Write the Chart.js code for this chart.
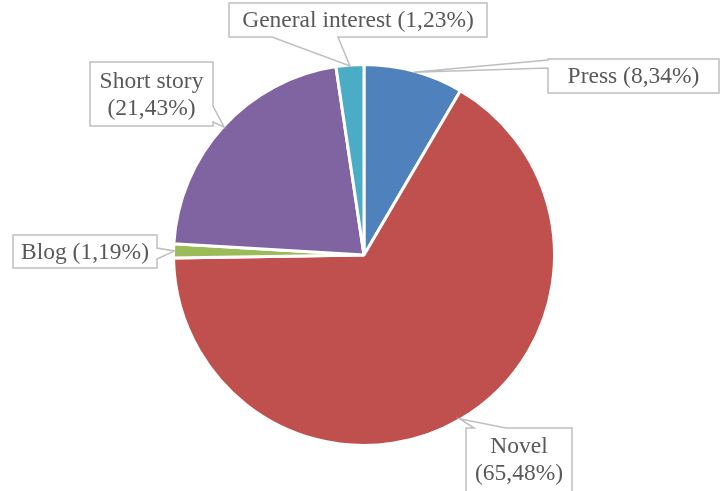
<!DOCTYPE html>
<html>
<head>
<meta charset="utf-8">
<script src="https://cdn.jsdelivr.net/npm/chart.js@4.4.1/dist/chart.umd.min.js"></script>
<style>
html,body{margin:0;padding:0;background:#fff;}
#wrap{width:727px;height:491px;position:relative;}
</style>
</head>
<body>
<div id="wrap"><canvas id="c" width="727" height="491"></canvas></div>
<script>
// Data
const categories = ["Press", "Novel", "Blog", "Short story", "General interest"];
const sliceValues = [8.34, 65.48, 1.19, 21.43, 2.33];      // slice sizes
const labelPercents = ["8,34%", "65,48%", "1,19%", "21,43%", "1,23%"]; // percentages printed in labels
const colors = ["#4F81BD", "#C0504D", "#9BBB59", "#8064A2", "#4BACC6"];

// Callout layout (positions only)
const callouts = [
  {rect:[548,59,719,93], side:"left", base:[60,68], lines:[categories[0]+" ("+labelPercents[0]+")"]},
  {rect:[466,428,572,494], side:"top", base:[474,506], lines:[categories[1], "("+labelPercents[1]+")"]},
  {rect:[13,235,157,268], side:"right", base:[248,259], lines:[categories[2]+" ("+labelPercents[2]+")"]},
  {rect:[90,62,213,126], side:"right", base:[106,122], lines:[categories[3], "("+labelPercents[3]+")"]},
  {rect:[229,3,487,37], side:"bottom", base:[272,338], lines:[categories[4]+" ("+labelPercents[4]+")"]}
];

const calloutPlugin = {
  id: "callouts",
  afterDatasetsDraw(chart) {
    const ctx = chart.ctx;
    const meta = chart.getDatasetMeta(0);
    meta.data.forEach((arc, i) => {
      const c = callouts[i];
      const p = arc.getProps(["x","y","startAngle","endAngle","outerRadius"], true);
      const mid = (p.startAngle + p.endAngle) / 2;
      const tx = p.x + Math.cos(mid) * (p.outerRadius - 1);
      const ty = p.y + Math.sin(mid) * (p.outerRadius - 1);
      const [x1,y1,x2,y2] = c.rect;
      ctx.save();
      ctx.beginPath();
      ctx.moveTo(x1,y1);
      if (c.side === "top") { ctx.lineTo(c.base[0],y1); ctx.lineTo(tx,ty); ctx.lineTo(c.base[1],y1); }
      ctx.lineTo(x2,y1);
      if (c.side === "right") { ctx.lineTo(x2,c.base[0]); ctx.lineTo(tx,ty); ctx.lineTo(x2,c.base[1]); }
      ctx.lineTo(x2,y2);
      if (c.side === "bottom") { ctx.lineTo(c.base[1],y2); ctx.lineTo(tx,ty); ctx.lineTo(c.base[0],y2); }
      ctx.lineTo(x1,y2);
      if (c.side === "left") { ctx.lineTo(x1,c.base[1]); ctx.lineTo(tx,ty); ctx.lineTo(x1,c.base[0]); }
      ctx.closePath();
      ctx.fillStyle = "#ffffff";
      ctx.fill();
      ctx.strokeStyle = "#BFBFBF";
      ctx.lineWidth = 1.5;
      ctx.lineJoin = "miter";
      ctx.stroke();
      ctx.fillStyle = "#595959";
      ctx.font = '23.5px "Liberation Serif", "Times New Roman", serif';
      ctx.textAlign = "center";
      ctx.textBaseline = "middle";
      const cx = (x1 + x2) / 2;
      const lh = 27;
      const cy = (y1 + Math.min(y2, 491)) / 2;
      const n = c.lines.length;
      c.lines.forEach((t, k) => {
        ctx.fillText(t, cx, cy + (k - (n - 1) / 2) * lh + 1);
      });
      ctx.restore();
    });
  }
};

new Chart(document.getElementById("c"), {
  type: "pie",
  data: {
    labels: categories,
    datasets: [{
      data: sliceValues,
      backgroundColor: colors,
      borderColor: "#ffffff",
      borderWidth: 3
    }]
  },
  options: {
    responsive: false,
    animation: false,
    layout: { padding: { left: 172, right: 171, top: 63, bottom: 44 } },
    plugins: {
      legend: { display: false },
      tooltip: { enabled: false }
    }
  },
  plugins: [calloutPlugin]
});
</script>
</body>
</html>
